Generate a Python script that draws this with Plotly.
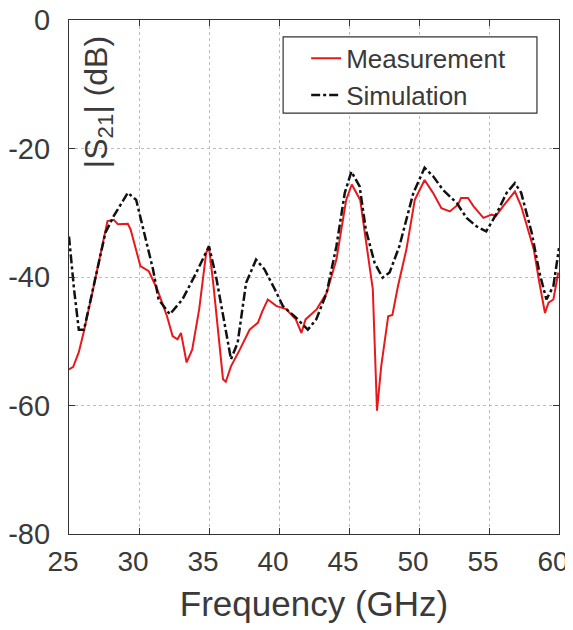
import plotly.graph_objects as go

# Measurement (red)
meas_f = [25.0, 25.3, 25.7, 26.07, 26.67, 27.4, 27.75, 28.2, 28.5, 29.2, 29.4, 30.1, 30.7, 31.3, 32.0,
          32.4, 32.75, 33.0, 33.4, 33.8, 34.3, 34.8, 35.0, 35.3, 36.0, 36.2, 36.57, 37.2, 37.9, 38.5,
          38.8, 39.2, 39.8, 40.5, 41.2, 41.6, 41.9, 42.7, 43.4, 44.1, 44.8, 45.2, 45.8, 46.2, 46.7,
          47.0, 47.3, 47.8, 48.1, 48.5, 49.1, 49.7, 50.4, 51.0, 51.6, 52.2, 52.8, 53.0, 53.5, 53.9,
          54.6, 55.2, 55.5, 56.0, 56.85, 57.3, 58.2, 58.6, 59.0, 59.25, 59.6, 59.95]
meas_db = [-54.4, -54.0, -51.7, -48.4, -42.4, -35.2, -31.3, -31.1, -31.8, -31.7, -32.6, -38.3, -39.1, -41.9, -46.1,
           -49.2, -49.7, -48.7, -53.3, -51.3, -45.0, -36.2, -35.4, -40.9, -55.9, -56.3, -53.9, -51.3, -48.2, -47.1,
           -45.4, -43.5, -44.5, -45.0, -46.6, -48.7, -46.6, -45.0, -42.5, -37.3, -28.0, -25.6, -28.0, -34.2, -41.9,
           -60.8, -53.9, -46.1, -45.9, -41.4, -35.7, -28.0, -24.9, -26.9, -29.3, -29.8, -28.7, -27.7, -27.7, -29.0,
           -30.8, -30.3, -30.5, -29.0, -26.7, -29.0, -35.7, -40.9, -45.6, -44.0, -43.5, -39.3]

# Simulation (black dash-dot)
sim_f = [25.0, 25.36, 25.7, 26.07, 26.67, 27.6, 28.2, 29.2, 29.8, 30.5, 31.0, 31.4, 32.2, 33.1, 34.1,
         35.0, 35.5, 36.1, 36.57, 37.05, 37.65, 38.36, 38.96, 39.7, 40.27, 41.2, 42.06, 42.66, 43.4, 44.1,
         44.7, 45.17, 45.76, 46.2, 46.83, 47.4, 47.9, 48.6, 49.6, 50.4, 51.0, 51.7, 52.7, 53.4, 54.1,
         54.8, 55.5, 56.26, 56.85, 57.3, 58.05, 58.6, 59.1, 59.6, 59.8, 60.0]
sim_db = [-33.7, -41.9, -48.2, -48.2, -42.3, -33.1, -30.5, -26.9, -28.0, -34.2, -38.8, -43.5, -45.8, -43.5, -39.3,
          -35.2, -39.9, -47.1, -52.8, -50.2, -40.9, -37.3, -38.8, -41.9, -44.5, -46.3, -48.2, -46.6, -42.5, -35.2,
          -26.9, -23.6, -25.9, -32.6, -37.8, -40.1, -39.3, -35.2, -26.9, -23.0, -24.3, -26.4, -28.5, -30.8, -32.1,
          -32.9, -30.3, -26.9, -25.4, -26.9, -33.1, -39.3, -43.5, -41.4, -38.3, -35.5]

x_ticks = [25, 30, 35, 40, 45, 50, 55, 60]
y_ticks = [0, -20, -40, -60, -80]

TXT = "#3a3a3a"

fig = go.Figure()
fig.add_trace(go.Scatter(x=meas_f, y=meas_db, mode="lines", name="Measurement",
                         line=dict(color="#e8191c", width=2)))
fig.add_trace(go.Scatter(x=sim_f, y=sim_db, mode="lines", name="Simulation",
                         line=dict(color="#111111", width=2.5, dash="dashdot")))

axis_common = dict(showline=True, linecolor="#333333", linewidth=1.2, mirror="allticks",
                   ticks="inside", ticklen=6, tickcolor="#333333",
                   showgrid=True, gridcolor="#bdbdbd", griddash="dot", gridwidth=1,
                   zeroline=False, automargin=False, ticklabeloverflow="allow")

# page body has an 8px margin, so the figure is sized/offset to compensate
fig.update_layout(
    width=565, height=622,
    margin=dict(l=61, r=14, t=12, b=96),
    paper_bgcolor="white", plot_bgcolor="white",
    font=dict(family="Liberation Sans, Arial, sans-serif", color=TXT),
    xaxis=dict(range=[25, 60], tickvals=x_ticks, ticktext=[str(v) for v in x_ticks],
               title=dict(text="Frequency (GHz)", font=dict(size=35, color=TXT), standoff=15),
               ticklabelstandoff=2, ticklabelshift=-6,
               tickfont=dict(size=28, color=TXT),
               **axis_common),
    yaxis=dict(range=[-80, 0], tickvals=y_ticks, ticktext=[str(v) for v in y_ticks],
               ticklabelstandoff=12,
               tickfont=dict(size=29, color=TXT),
               **axis_common),
    legend=dict(x=0.484, y=0.971, xanchor="left", yanchor="top",
                bgcolor="rgba(0,0,0,0)", borderwidth=0,
                font=dict(size=26, color=TXT)),
    showlegend=True,
)

# legend frame
fig.add_shape(type="rect", xref="paper", yref="paper", x0=0.437, x1=0.955, y0=0.819, y1=0.967,
              line=dict(color="#333333", width=1.2), fillcolor="white", layer="above")

fig.add_annotation(text="|S<sub>21</sub>| (dB)", textangle=-90, xref="paper", yref="paper",
                   x=0.059, y=0.84, xanchor="center", yanchor="middle",
                   showarrow=False, font=dict(size=32, color=TXT))

fig.write_html("out.html")
